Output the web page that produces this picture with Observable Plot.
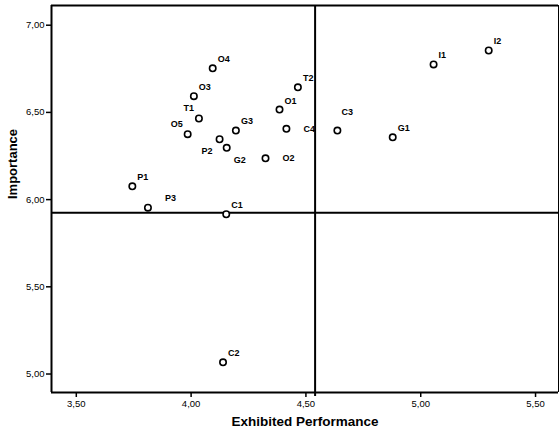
<!DOCTYPE html>
<html>
<head>
<meta charset="utf-8">
<script src="https://cdn.jsdelivr.net/npm/d3@7"></script>
<script src="https://cdn.jsdelivr.net/npm/@observablehq/plot@0.6"></script>
<style>
  html, body { margin: 0; padding: 0; background: #fff; }
  #chart svg { display: block; }
</style>
</head>
<body>
<div id="chart"></div>
<script>
// ---- data ----
const codes = ["O4","O3","T1","O5","P2","G2","G3","O2","O1","C4","T2","C3","G1","I1","I2","P1","P3","C1","C2"];
const performance = [4.094,4.012,4.034,3.985,4.124,4.155,4.195,4.324,4.385,4.415,4.465,4.637,4.878,5.056,5.296,3.744,3.812,4.153,4.139];
const importance  = [6.753,6.593,6.465,6.375,6.346,6.297,6.396,6.237,6.516,6.406,6.644,6.396,6.357,6.775,6.855,6.076,5.954,5.916,5.067];
const labelPlacement = ["ne","ne","nw","nw","sw","se","ne","e","ne","e","ne","nne","ne","ne","ne","ne","ene","ne","ne"];
const xTicks = [3.5, 4.0, 4.5, 5.0, 5.5];
const yTicks = [5.0, 5.5, 6.0, 6.5, 7.0];
const meanPerformance = 4.54;
const meanImportance = 5.925;
const xTitle = "Exhibited Performance";
const yTitle = "Importance";

// ---- layout ----
const xDomain = [3.392, 5.600];
const yDomain = [4.894, 7.113];
const placements = {
  ne:  {dx: 5,  dy: -9,  textAnchor: "start"},
  nne: {dx: 4,  dy: -18, textAnchor: "start"},
  ene: {dx: 17, dy: -10, textAnchor: "start"},
  e:   {dx: 17, dy: 0,   textAnchor: "start"},
  nw:  {dx: -5, dy: -10, textAnchor: "end"},
  sw:  {dx: -7, dy: 12,  textAnchor: "end"},
  se:  {dx: 7,  dy: 12,  textAnchor: "start"}
};

const points = codes.map((c, i) => ({code: c, x: performance[i], y: importance[i], pos: labelPlacement[i]}));
const fmt = d => d.toFixed(2).replace(".", ",");
const font = "'Liberation Sans', Arial, sans-serif";

const labelMarks = Object.entries(placements).map(([key, p]) =>
  Plot.text(points.filter(d => d.pos === key), {
    x: "x", y: "y", text: "code",
    dx: p.dx, dy: p.dy, textAnchor: p.textAnchor,
    fontWeight: "bold", fontSize: 9, fill: "black"
  })
);

const chart = Plot.plot({
  width: 560,
  height: 432,
  marginLeft: 51,
  marginRight: 2,
  marginTop: 5,
  marginBottom: 40,
  style: {fontFamily: font, fontSize: "9.5px", background: "white", color: "black"},
  x: {domain: xDomain},
  y: {domain: yDomain},
  marks: [
    Plot.axisX({ticks: xTicks, tickFormat: fmt, tickSize: 5, tickPadding: 3, label: null, fontSize: 9.5, strokeWidth: 1.5}),
    Plot.axisY({ticks: yTicks, tickFormat: fmt, tickSize: 5, tickPadding: 2, label: null, fontSize: 9.5, strokeWidth: 1.5}),
    // frame
    Plot.ruleX([xDomain[0]], {stroke: "black", strokeWidth: 2}),
    Plot.ruleX([xDomain[1]], {stroke: "black", strokeWidth: 1}),
    Plot.ruleY([yDomain[0]], {stroke: "black", strokeWidth: 2}),
    Plot.ruleY([yDomain[1]], {stroke: "black", strokeWidth: 2}),
    // reference lines
    Plot.ruleX([meanPerformance], {stroke: "black", strokeWidth: 2, y1: yDomain[1], y2: yDomain[0], insetBottom: -4}),
    Plot.ruleY([meanImportance], {stroke: "black", strokeWidth: 2}),
    // points
    Plot.dot(points, {x: "x", y: "y", r: 3.2, stroke: "black", strokeWidth: 1.6, fill: "white"}),
    ...labelMarks,
    // axis titles
    Plot.text([xTitle], {frameAnchor: "bottom", dy: 33, fontWeight: "bold", fontSize: 13.5, fill: "black"}),
    Plot.text([yTitle], {frameAnchor: "left", dx: -39, rotate: -90, fontWeight: "bold", fontSize: 13, fill: "black"})
  ]
});
document.getElementById("chart").appendChild(chart);
</script>
</body>
</html>
